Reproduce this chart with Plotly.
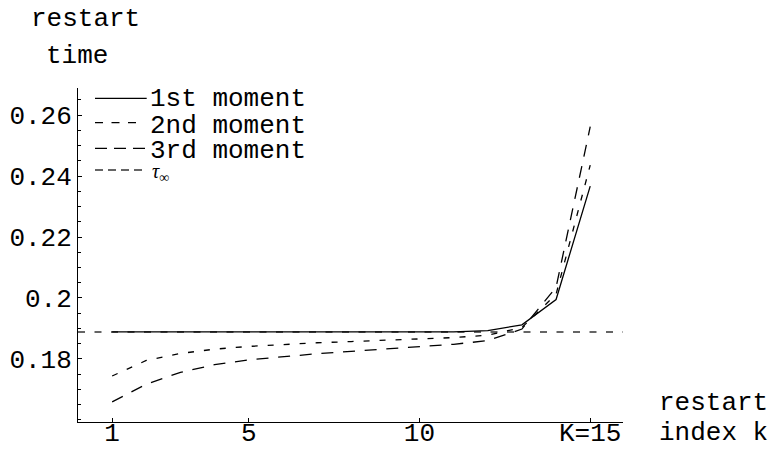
import plotly.graph_objects as go

# restart index k and the restart time each moment-based rule picks
k = list(range(1, 16))
first_moment = [0.18885, 0.18885, 0.18885, 0.18885, 0.18885, 0.18885, 0.18885,
                0.18885, 0.18885, 0.18885, 0.1889, 0.1893, 0.1912, 0.1995, 0.2367]
second_moment = [0.1744, 0.1795, 0.1818, 0.1832, 0.1841, 0.1848, 0.1853,
                 0.1857, 0.1861, 0.1865, 0.1870, 0.1878, 0.1903, 0.2012, 0.2436]
third_moment = [0.1659, 0.1717, 0.1756, 0.1781, 0.1797, 0.1808, 0.1817,
                0.1825, 0.1832, 0.1840, 0.1848, 0.1860, 0.1898, 0.2035, 0.2562]
tau_inf = 0.18885

x_ticks = [1, 5, 10, 15]
x_tick_labels = ["1", "5", "10", "K=15"]
y_ticks = [0.18, 0.2, 0.22, 0.24, 0.26]
y_tick_labels = ["0.18", "0.2", "0.22", "0.24", "0.26"]

X_RANGE = [0, 15.96]
Y_RANGE = [0.1593, 0.2689]

W, H = 772, 459
M_L, M_R, M_T, M_B = 78, 149, 88, 37
PLOT_W = W - M_L - M_R
PLOT_H = H - M_T - M_B

MONO = "Liberation Mono, Courier New, monospace"
FS = 26


def px_x(p):
    return (p - M_L) / PLOT_W


def px_y(p):
    return 1 - (p - M_T) / PLOT_H


fig = go.Figure()

fig.add_trace(go.Scatter(
    x=[X_RANGE[0], X_RANGE[1]], y=[tau_inf, tau_inf], mode="lines",
    line=dict(color="#333333", width=1.4, dash="7px,9.5px"),
    name="τ∞", showlegend=False, hoverinfo="skip"))
fig.add_trace(go.Scatter(
    x=k, y=third_moment, mode="lines",
    line=dict(color="black", width=1.3, dash="12px,9.7px"),
    name="3rd moment", showlegend=False))
fig.add_trace(go.Scatter(
    x=k, y=second_moment, mode="lines",
    line=dict(color="black", width=1.3, dash="6px,10px"),
    name="2nd moment", showlegend=False))
fig.add_trace(go.Scatter(
    x=k, y=first_moment, mode="lines",
    line=dict(color="black", width=1.3),
    name="1st moment", showlegend=False))

# hand-drawn key in the upper left corner
key_rows = [
    ("1st moment", None, 98.3, 146.7, 99),
    ("2nd moment", "8px,8.5px", 122.7, 137, 125.5),
    ("3rd moment", "12px,7px", 148.3, 145, 150.5),
]
shapes = []
annotations = []
for label, dash, ly, x_end, ty in key_rows:
    shapes.append(dict(
        type="line", xref="paper", yref="paper",
        x0=px_x(95), x1=px_x(x_end), y0=px_y(ly), y1=px_y(ly),
        line=dict(color="black", width=1.3, dash=dash or "solid")))
    annotations.append(dict(
        text=label, xref="paper", yref="paper", x=px_x(148), y=px_y(ty),
        xanchor="left", yanchor="middle", showarrow=False,
        font=dict(family=MONO, size=FS, color="black")))
shapes.append(dict(
    type="line", xref="paper", yref="paper",
    x0=px_x(95), x1=px_x(146), y0=px_y(170), y1=px_y(170),
    line=dict(color="#333333", width=1.3, dash="8px,5px")))
annotations.append(dict(
    text="<i>τ</i><sub>∞</sub>", xref="paper", yref="paper",
    x=px_x(150), y=px_y(172), xanchor="left", yanchor="middle",
    showarrow=False,
    font=dict(family="Liberation Serif, serif", size=20, color="black")))

# axis captions
for text, x, y in [("restart", 29, 19.5), ("time", 44, 56),
                   ("restart", 657, 403), ("index k", 657, 433)]:
    annotations.append(dict(
        text=text, xref="paper", yref="paper", x=px_x(x), y=px_y(y),
        xanchor="left", yanchor="middle", showarrow=False,
        font=dict(family=MONO, size=FS, color="black")))

fig.update_layout(
    width=W, height=H,
    margin=dict(l=M_L, r=M_R, t=M_T, b=M_B, pad=0, autoexpand=False),
    paper_bgcolor="white", plot_bgcolor="white",
    showlegend=False,
    shapes=shapes, annotations=annotations,
    font=dict(family=MONO, size=FS, color="black"),
)
fig.update_xaxes(
    range=X_RANGE, showgrid=False, zeroline=False, automargin=False,
    showline=True, linecolor="black", linewidth=1,
    tickmode="array", tickvals=x_ticks, ticktext=x_tick_labels,
    ticks="inside", ticklen=4, tickcolor="black", tickwidth=1,
    ticklabelstandoff=-13,
    tickfont=dict(family=MONO, size=FS, color="black"),
)
fig.update_yaxes(
    range=Y_RANGE, showgrid=False, zeroline=False, automargin=False,
    showline=True, linecolor="black", linewidth=1,
    tickmode="array", tickvals=y_ticks, ticktext=y_tick_labels,
    ticks="inside", ticklen=4, tickcolor="black", tickwidth=1,
    tickfont=dict(family=MONO, size=FS, color="black"),
    minor=dict(tickmode="linear", tick0=0.16, dtick=0.005,
               ticks="inside", ticklen=2.5, tickcolor="black", tickwidth=1),
)

fig.write_html("out.html")
